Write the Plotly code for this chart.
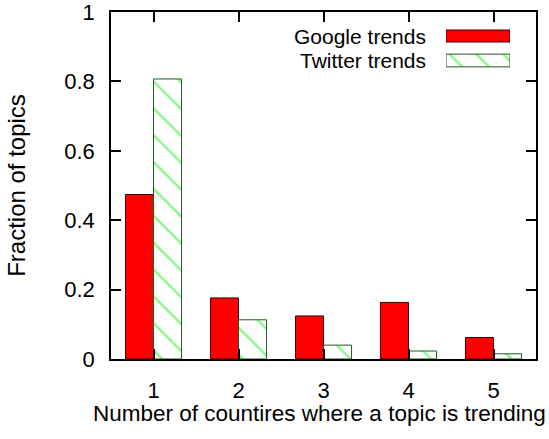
import plotly.graph_objects as go

# Number of countries in which a topic trends
countries = [1, 2, 3, 4, 5]
google_frac = [0.474, 0.176, 0.124, 0.163, 0.062]
twitter_frac = [0.807, 0.113, 0.040, 0.023, 0.015]

series_names = ["Google trends", "Twitter trends"]
x_title = "Number of countires where a topic is trending"
y_title = "Fraction of topics"

FONT = "Liberation Sans, Arial, Helvetica, sans-serif"
RED = "#ff0000"
RED_EDGE = "#3a0000"
GREEN = "#00ee00"
GREEN_EDGE = "#1f5a1f"

google_style = dict(color=RED, line=dict(color=RED_EDGE, width=1))
twitter_style = dict(
    color="white",
    line=dict(color=GREEN_EDGE, width=1),
    pattern=dict(shape="\\", fgcolor=GREEN, bgcolor="white", size=19, solidity=0.12, fillmode="overlay"),
)

fig = go.Figure()
fig.add_bar(x=countries, y=google_frac, name=series_names[0], marker=google_style, showlegend=False)
fig.add_bar(x=countries, y=twitter_frac, name=series_names[1], marker=twitter_style, showlegend=False)

# Key swatches (gnuplot-style: label on the left, sample box on the right)
fig.add_bar(x=[1], y=[2], orientation="h", base=0, width=0.49, marker=google_style,
            xaxis="x2", yaxis="y2", showlegend=False, hoverinfo="skip")
fig.add_bar(x=[1], y=[1], orientation="h", base=0, width=0.52, marker=twitter_style,
            xaxis="x2", yaxis="y2", showlegend=False, hoverinfo="skip")

W, H = 549, 439
ml, mr, mt, mb = 111, 13, 12, 80
pw, ph = W - ml - mr, H - mt - mb

def px_x(px):
    return (px - ml) / pw

def px_y(py):
    return (H - mb - py) / ph

for name, yc in zip(series_names, [36, 60.5]):
    fig.add_annotation(text=name, x=px_x(428), y=px_y(yc), xref="paper", yref="paper",
                       xanchor="right", yanchor="middle", showarrow=False,
                       font=dict(family=FONT, size=21, color="black"))

# x-axis title, centred slightly left of the plot area so it fits the page
fig.add_annotation(text=x_title, x=px_x(319), y=px_y(414), xref="paper", yref="paper",
                   xanchor="center", yanchor="middle", showarrow=False,
                   font=dict(family=FONT, size=22.5, color="black"))

axis_common = dict(
    showline=True, linecolor="black", linewidth=1.5, mirror="ticks",
    ticks="inside", ticklen=10, tickwidth=1.5, tickcolor="black",
    showgrid=False, zeroline=False, automargin=False, ticklabeloverflow="allow",
    tickfont=dict(family=FONT, size=22, color="black"),
)

row_unit = 24.5 / ph
y2_bottom = px_y(60.5) - 0.5 * row_unit

fig.update_layout(
    width=W, height=H,
    margin=dict(l=ml, r=mr, t=mt, b=mb),
    paper_bgcolor="white", plot_bgcolor="white",
    barmode="group", bargap=0.34, bargroupgap=0,
    xaxis=dict(range=[0.5, 5.5], tickmode="array", tickvals=countries,
               ticklabelstandoff=11, **axis_common),
    yaxis=dict(range=[0, 1], tickmode="array", tickvals=[0, 0.2, 0.4, 0.6, 0.8, 1],
               ticktext=["0", "0.2", "0.4", "0.6", "0.8", "1"],
               ticklabelstandoff=10,
               title=dict(text=y_title, standoff=32, font=dict(family=FONT, size=24, color="black")),
               **axis_common),
    xaxis2=dict(domain=[px_x(446), px_x(510)], range=[0, 1], visible=False, fixedrange=True),
    yaxis2=dict(domain=[y2_bottom, y2_bottom + 2 * row_unit], range=[0.5, 2.5], visible=False,
                fixedrange=True, anchor="x2"),
)

fig.write_html("out.html")
